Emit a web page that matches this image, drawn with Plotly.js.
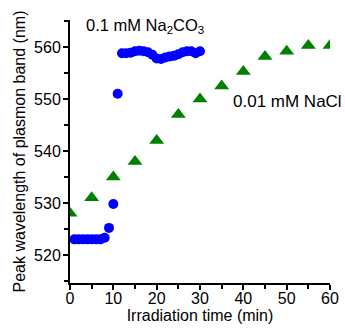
<!DOCTYPE html>
<html>
<head>
<meta charset="utf-8">
<script src="https://cdn.plot.ly/plotly-3.0.1.min.js"></script>
<style>html,body{margin:0;padding:0;background:#fff}#chart{width:345px;height:332px}</style>
</head>
<body>
<div id="chart"></div>
<script>
// Na2CO3 series (blue circles)
var naCO3Time = [1,2,3,4,5,6,7,8,9,10,11,12,13,14,15,16,17,18,19,20,21,22,23,24,25,26,27,28,29,30];
var naCO3Peak = [523,523,523,523,523,523,523,523.3,525.2,529.8,551,558.8,558.8,558.9,559.2,559.3,559.2,559.0,558.5,557.8,557.7,558.0,558.2,558.3,558.6,559.0,559.2,559.2,558.8,559.2];
// NaCl series (green triangles)
var naclTime = [0,5,10,15,20,25,30,35,40,45,50,55,60];
var naclPeak = [528,531,535,538,542,547,550,552.5,555.3,558.2,559.2,560.3,560.3];
// axis ticks
var xTicks = [0,10,20,30,40,50,60];
var yTicks = [520,530,540,550,560];

var fam = 'Liberation Sans, Arial, sans-serif';
var tickFnt = {family: fam, size: 16, color: '#000'};
var titleFnt = {family: fam, size: 16, color: '#000'};
var annFnt = {family: fam, size: 16.5, color: '#000'};
var annFnt2 = {family: fam, size: 17, color: '#000'};

var traces = [
  {x: naCO3Time, y: naCO3Peak, type: 'scatter', mode: 'markers', name: '0.1 mM Na2CO3',
   marker: {symbol: 'circle', size: 10, color: '#0000ff'}},
  {x: naclTime, y: naclPeak, type: 'scatter', mode: 'markers', name: '0.01 mM NaCl',
   marker: {symbol: 'triangle-up', size: 13, color: '#008000'}}
];

var layout = {
  width: 345, height: 332,
  margin: {l: 70, r: 15, t: 20, b: 49},
  showlegend: false,
  paper_bgcolor: '#fff', plot_bgcolor: '#fff',
  font: tickFnt,
  xaxis: {
    range: [0, 60], tickvals: xTicks, ticktext: xTicks.map(String),
    showgrid: false, zeroline: false, showline: true, linecolor: '#000', linewidth: 2,
    ticks: 'outside', ticklen: 5, tickwidth: 2, tickcolor: '#000',
    minor: {dtick: 5, tick0: 0, ticks: 'outside', ticklen: 4, tickwidth: 2, tickcolor: '#000', showgrid: false},
    tickfont: tickFnt, ticklabelstandoff: -5,
    title: {text: 'Irradiation time (min)', font: titleFnt, standoff: 0}
  },
  yaxis: {
    range: [514.6, 565.2], tickvals: yTicks, ticktext: yTicks.map(String),
    showgrid: false, zeroline: false, showline: true, linecolor: '#000', linewidth: 2,
    ticks: 'outside', ticklen: 5, tickwidth: 2, tickcolor: '#000',
    minor: {dtick: 5, tick0: 515, ticks: 'outside', ticklen: 4, tickwidth: 2, tickcolor: '#000', showgrid: false},
    tickfont: tickFnt, ticklabelstandoff: -1,
    title: {text: 'Peak wavelength of plasmon band (nm)', font: titleFnt, standoff: 4}
  },
  annotations: [
    {text: '0.1 mM Na<sub>2</sub>CO<sub>3</sub>', xref: 'paper', yref: 'paper', x: 0.055, y: 0.977,
     xanchor: 'left', yanchor: 'middle', showarrow: false, font: annFnt},
    {text: '0.01 mM NaCl', xref: 'paper', yref: 'paper', x: 0.62, y: 0.69,
     xanchor: 'left', yanchor: 'middle', showarrow: false, font: annFnt2}
  ]
};

Plotly.newPlot('chart', traces, layout, {displayModeBar: false, staticPlot: true});
</script>
</body>
</html>
